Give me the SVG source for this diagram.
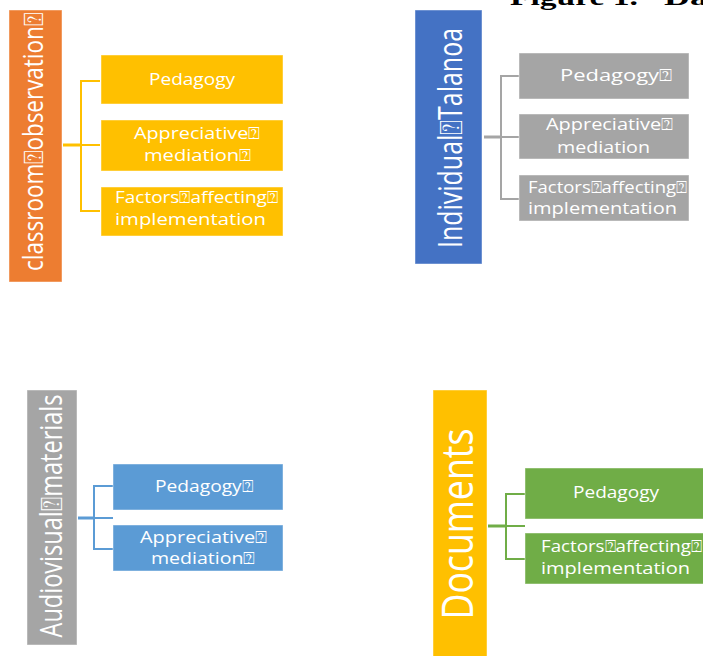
<svg xmlns="http://www.w3.org/2000/svg" width="703" height="656" viewBox="0 0 703 656">
<style>
.box{stroke:#ffffff;stroke-opacity:0.45;stroke-width:1}
.vt{font-family:"Open Sans","DejaVu Sans",sans-serif;fill:#ffffff;text-anchor:middle}
.ht{font-family:"Open Sans","DejaVu Sans",sans-serif;font-size:17px;fill:#ffffff}
.c{fill:none;stroke-width:2}
.stem{fill:none;stroke-width:3}
</style>
<rect width="703" height="656" fill="#ffffff"/>
<text x="510" y="5" font-family="Liberation Serif,serif" font-weight="bold" font-size="24" fill="#000" textLength="128" lengthAdjust="spacingAndGlyphs">Figure 1.</text>
<text x="664" y="5" font-family="Liberation Serif,serif" font-weight="bold" font-size="24" fill="#000" textLength="44" lengthAdjust="spacingAndGlyphs">Da</text>

<g id="connectors">
  <path class="stem" stroke="#FFC000" d="M63,145 H81"/>
  <path class="c" stroke="#FFC000" d="M100,81 H81 V211 H100 M81,145 H100"/>
  <path class="stem" stroke="#A5A5A5" d="M484,137 H501"/>
  <path class="c" stroke="#A5A5A5" d="M519,76 H501 V199 H519 M501,137 H519"/>
  <path class="stem" stroke="#5B9BD5" d="M78,518 H94"/>
  <path class="c" stroke="#5B9BD5" d="M113,486 H94 V549 H113 M94,518 H113"/>
  <path class="stem" stroke="#70AD47" d="M488,526 H506"/>
  <path class="c" stroke="#70AD47" d="M525,494 H506 V559 H525 M506,526 H525"/>
</g>

<g id="classroom-observation">
  <rect class="box" x="9" y="10" width="53" height="272" fill="#ED7D31"/>
  <text class="vt" font-size="27" transform="translate(43,142) rotate(-90)" textLength="258" lengthAdjust="spacingAndGlyphs">classroom⍰observation⍰</text>
</g>
<g id="co-pedagogy">
  <rect class="box" x="101" y="55" width="182" height="49" fill="#FFC000"/>
  <text class="ht" x="149" y="85" textLength="86" lengthAdjust="spacingAndGlyphs">Pedagogy</text>
</g>
<g id="co-appreciative">
  <rect class="box" x="101" y="120" width="182" height="51" fill="#FFC000"/>
  <text class="ht" x="134" y="139" textLength="126" lengthAdjust="spacingAndGlyphs">Appreciative⍰</text>
  <text class="ht" x="144" y="161" textLength="107" lengthAdjust="spacingAndGlyphs">mediation⍰</text>
</g>
<g id="co-factors">
  <rect class="box" x="101" y="187" width="182" height="49" fill="#FFC000"/>
  <text class="ht" x="115" y="203" textLength="163" lengthAdjust="spacingAndGlyphs">Factors⍰affecting⍰</text>
  <text class="ht" x="115" y="225" textLength="151" lengthAdjust="spacingAndGlyphs">implementation</text>
</g>

<g id="individual-talanoa">
  <rect class="box" x="415" y="10" width="67" height="254" fill="#4472C4"/>
  <text class="vt" font-size="32" transform="translate(462,138) rotate(-90)" textLength="220" lengthAdjust="spacingAndGlyphs">Individual⍰Talanoa</text>
</g>
<g id="it-pedagogy">
  <rect class="box" x="519" y="53" width="170" height="46" fill="#A5A5A5"/>
  <text class="ht" x="560" y="81" textLength="112" lengthAdjust="spacingAndGlyphs">Pedagogy⍰</text>
</g>
<g id="it-appreciative">
  <rect class="box" x="519" y="114" width="170" height="45" fill="#A5A5A5"/>
  <text class="ht" x="546" y="130" textLength="127" lengthAdjust="spacingAndGlyphs">Appreciative⍰</text>
  <text class="ht" x="557" y="153" textLength="93" lengthAdjust="spacingAndGlyphs">mediation</text>
</g>
<g id="it-factors">
  <rect class="box" x="519" y="175" width="170" height="46" fill="#A5A5A5"/>
  <text class="ht" x="528" y="193" textLength="159" lengthAdjust="spacingAndGlyphs">Factors⍰affecting⍰</text>
  <text class="ht" x="528" y="214" textLength="149" lengthAdjust="spacingAndGlyphs">implementation</text>
</g>

<g id="audiovisual-materials">
  <rect class="box" x="27" y="390" width="50" height="255" fill="#A5A5A5"/>
  <text class="vt" font-size="31" transform="translate(62,516) rotate(-90)" textLength="243" lengthAdjust="spacingAndGlyphs">Audiovisual⍰materials</text>
</g>
<g id="av-pedagogy">
  <rect class="box" x="113" y="464" width="170" height="46" fill="#5B9BD5"/>
  <text class="ht" x="155" y="492" textLength="98" lengthAdjust="spacingAndGlyphs">Pedagogy⍰</text>
</g>
<g id="av-appreciative">
  <rect class="box" x="113" y="525" width="170" height="46" fill="#5B9BD5"/>
  <text class="ht" x="140" y="543" textLength="127" lengthAdjust="spacingAndGlyphs">Appreciative⍰</text>
  <text class="ht" x="151" y="564" textLength="104" lengthAdjust="spacingAndGlyphs">mediation⍰</text>
</g>

<g id="documents">
  <rect class="box" x="433" y="390" width="54" height="270" fill="#FFC000"/>
  <text class="vt" font-size="43" transform="translate(473,524) rotate(-90)" textLength="191" lengthAdjust="spacingAndGlyphs">Documents</text>
</g>
<g id="doc-pedagogy">
  <rect class="box" x="525" y="468" width="185" height="51" fill="#70AD47"/>
  <text class="ht" x="573" y="498" textLength="86" lengthAdjust="spacingAndGlyphs">Pedagogy</text>
</g>
<g id="doc-factors">
  <rect class="box" x="525" y="533" width="185" height="51" fill="#70AD47"/>
  <text class="ht" x="541" y="552" textLength="161" lengthAdjust="spacingAndGlyphs">Factors⍰affecting⍰</text>
  <text class="ht" x="541" y="574" textLength="149" lengthAdjust="spacingAndGlyphs">implementation</text>
</g>
</svg>
